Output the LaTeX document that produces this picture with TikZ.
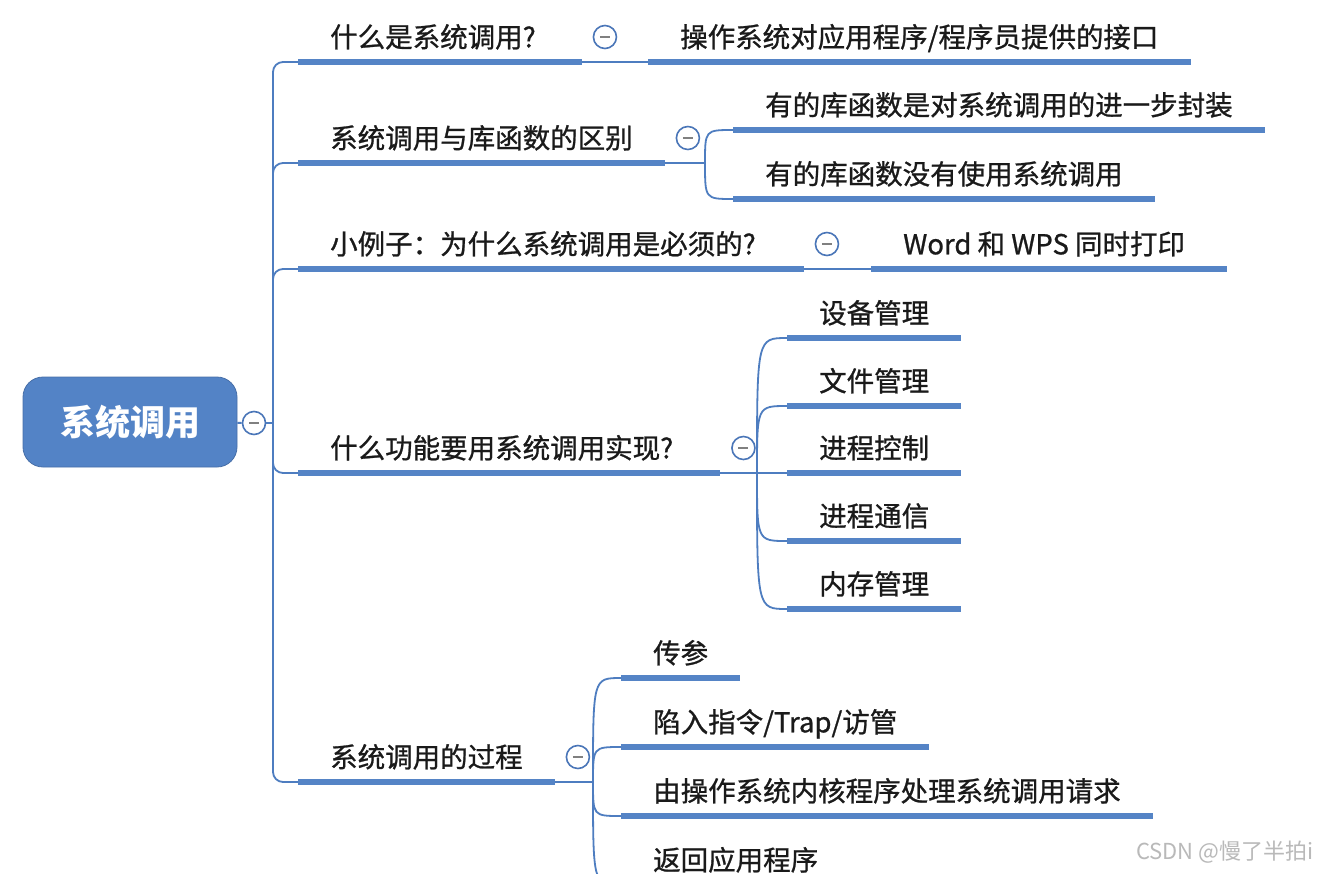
\documentclass[tikz,border=0pt]{standalone}
\usepackage{fontspec}
\setmainfont{Noto Sans CJK SC}
\newfontfamily\topicfont{Noto Sans CJK SC}[FakeBold=0.9]
\definecolor{barblue}{HTML}{5584C6}
\definecolor{linkblue}{HTML}{4E7DC0}
\definecolor{foldblue}{HTML}{4A76B8}
\definecolor{rootblue}{HTML}{5383C6}
\definecolor{ink}{HTML}{1A1A1A}
\tikzset{
  bar/.style={line width=6pt, draw=barblue},
  link/.style={line width=1.8pt, draw=linkblue},
  topic/.style={anchor=south west, inner xsep=32pt, inner ysep=0pt, minimum height=50pt,
    text height=23pt, text depth=2pt, text=ink, font=\topicfont\fontsize{27.5}{30}\selectfont},
  subtopic/.style={topic},
  root/.style={fill=rootblue, draw=rootblue!85!black, line width=0.8pt, rounded corners=20pt,
    minimum width=214pt, minimum height=90pt, text=white, font=\fontsize{35}{38}\selectfont\bfseries},
  fold/.style={circle, draw=foldblue, line width=1.6pt, fill=white, minimum size=23pt, inner sep=0pt,
    path picture={\draw[gray, line width=1.4pt] ([xshift=-5pt]path picture bounding box.center)
      -- ([xshift=5pt]path picture bounding box.center);}}
}
\begin{document}
\begin{tikzpicture}[x=1pt,y=-1pt]
\clip (0,0) rectangle (1320,873);
\fill[white] (0,0) rectangle (1320,873);
% root
\node[root] (root) at (130,422) {系统调用};
\node[fold] (rootf) at (254,423) {};
% first level
\node[topic] (q1) at (298,62) {什么是系统调用?\kern14pt};
\node[topic] (q2) at (298,163) {系统调用与库函数的区别};
\node[topic] (q3) at (298,269) {小例子：为什么系统调用是必须的?\kern16pt};
\node[topic] (q4) at (298,473) {什么功能要用系统调用实现?\kern15pt};
\node[topic] (q5) at (298,782) {系统调用的过程};
% second level
\node[subtopic] (a1) at (648,62) {操作系统对应用程序/程序员提供的接口};
\node[subtopic] (b1) at (733,130) {有的库函数是对系统调用的进一步封装};
\node[subtopic] (b2) at (733,199) {有的库函数没有使用系统调用};
\node[subtopic] (c1) at (871,269) {Word 和 WPS 同时打印\kern10pt};
\node[subtopic] (f1) at (787,338) {设备管理};
\node[subtopic] (f2) at (787,406) {文件管理};
\node[subtopic] (f3) at (787,473) {进程控制};
\node[subtopic] (f4) at (787,541) {进程通信};
\node[subtopic] (f5) at (787,609) {内存管理};
\node[subtopic] (p1) at (621,678) {传参};
\node[subtopic] (p2) at (621,747) {陷入指令/Trap/访管};
\node[subtopic] (p3) at (621,816) {由操作系统内核程序处理系统调用请求};
\node[subtopic] (p4) at (621,885) {返回应用程序};
% underlines
\foreach \n in {q1,q2,q3,q4,q5,a1,b1,b2,c1,f1,f2,f3,f4,f5,p1,p2,p3,p4}
  \draw[bar] (\n.south west) -- (\n.south east);
% trunk
\coordinate (trunk) at (273,423);
\draw[link] (root) -- (rootf);
\draw[link] (rootf) -- (trunk);
\foreach \n in {q1,q2,q3,q4,q5}
  \draw[link, rounded corners=10pt] (trunk) |- (\n.south west);
% branches
\draw[link] (q1.south east) -- (a1.south west);
\draw[link] (q3.south east) -- (c1.south west);
\coordinate (q2j) at (705,163);
\coordinate (q4j) at (757,473);
\coordinate (q5j) at (593,782);
\draw[link] (q2.south east) -- (q2j);
\draw[link] (q4.south east) -- (q4j);
\draw[link] (q5.south east) -- (q5j);
\foreach \c in {b1,b2}
  \draw[link] (q2j) .. controls (q2j |- \c.south west) .. (\c.south west);
\foreach \c in {f1,f2,f3,f4,f5}
  \draw[link] (q4j) .. controls (q4j |- \c.south west) .. (\c.south west);
\foreach \c in {p1,p2,p3,p4}
  \draw[link] (q5j) .. controls (q5j |- \c.south west) .. (\c.south west);
% fold buttons
\foreach \n in {q1,q2,q3,q4,q5}
  \node[fold] (\n f) at ([shift={(23,-25)}]\n.south east) {};
% watermark
\node[anchor=east, text=gray!55, font=\fontsize{22}{24}\selectfont] (mark) at (1317,852) {CSDN @慢了半拍i};
\end{tikzpicture}
\end{document}
